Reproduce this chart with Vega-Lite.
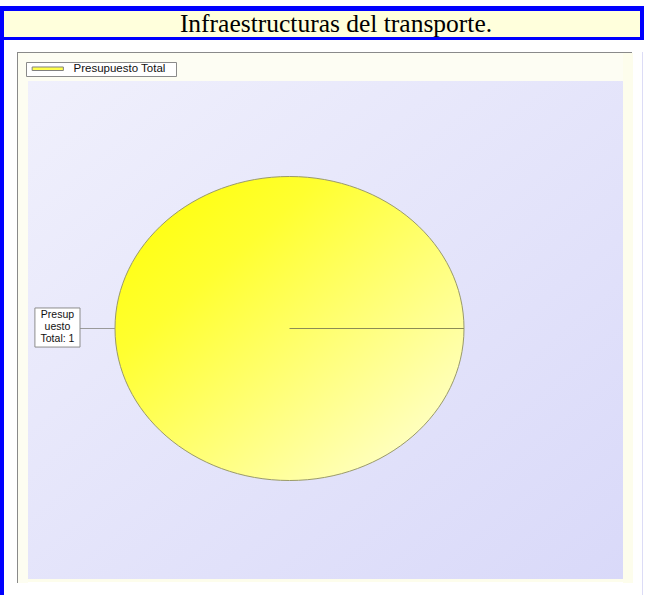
{
  "$schema": "https://vega.github.io/schema/vega-lite/v6.json",
  "background": "white",
  "padding": {"left": 0, "top": 6, "right": 0, "bottom": 0},
  "config": {"view": {"stroke": null}, "concat": {"spacing": 0}},
  "hconcat": [
    {"width": 4, "height": 589, "data": {"values": []}, "mark": "rect", "view": {"fill": "#0000ff"}},
    {
      "spacing": 0,
      "vconcat": [
        {
          "spacing": 0,
          "hconcat": [
            {
              "spacing": 0,
              "bounds": "flush",
              "vconcat": [
                {"width": 636, "height": 5, "data": {"values": []}, "mark": "rect", "view": {"fill": "#0000ff"}},
                {
                  "width": 636, "height": 26,
                  "view": {"fill": "#ffffdc"},
                  "data": {"values": [{"title": "Infraestructuras del transporte."}]},
                  "mark": {"type": "text", "font": "Liberation Serif", "fontSize": 25.5, "color": "black", "align": "center", "baseline": "middle", "dx": 14},
                  "encoding": {"text": {"field": "title"}}
                },
                {"width": 636, "height": 3, "data": {"values": []}, "mark": "rect", "view": {"fill": "#0000ff"}}
              ]
            },
            {"width": 4, "height": 34, "data": {"values": []}, "mark": "rect", "view": {"fill": "#0000ff"}}
          ]
        },
        {
          "spacing": 0,
          "vconcat": [
            {"width": 1, "height": 12, "data": {"values": []}, "mark": "rect"},
            {
              "spacing": 0,
              "hconcat": [
                {"width": 13, "height": 1, "data": {"values": []}, "mark": "rect"},
                {
                  "spacing": 0,
                  "vconcat": [
                    {"width": 615, "height": 1, "data": {"values": []}, "mark": "rect", "view": {"fill": "#8a8a8a"}},
                    {
                      "spacing": 0,
                      "hconcat": [
                        {"width": 1, "height": 530, "data": {"values": []}, "mark": "rect", "view": {"fill": "#8a8a8a"}},
                        {"width": 10, "height": 530, "data": {"values": []}, "mark": "rect", "view": {"fill": "#fdfdf1"}},
                        {
                          "spacing": 0,
                          "bounds": "flush",
                          "vconcat": [
                            {"width": 595, "height": 28, "data": {"values": []}, "mark": "rect", "view": {"fill": "#fdfdf3"}},
                            {
                              "width": 595, "height": 498,
                              "view": {"fill": {"gradient": "linear", "x1": 0, "y1": 0, "x2": 1, "y2": 1, "stops": [{"offset": 0, "color": "#f0f0fc"}, {"offset": 1, "color": "#d9d9f9"}]}},
                              "data": {"values": [{"category": "Presupuesto Total", "value": 1}]},
                              "layer": [
                                {
                                  "mark": {"type": "point", "shape": "M-1,0A1,0.8711 0 1,1 1,0A1,0.8711 0 1,1 -1,0Z", "size": 121801, "filled": true, "opacity": 1, "fillOpacity": 1,
                                    "fill": {"gradient": "linear", "x1": 0, "y1": 0, "x2": 1, "y2": 1, "stops": [{"offset": 0, "color": "#ffff00"}, {"offset": 0.3, "color": "#ffff30"}, {"offset": 1, "color": "#ffffe0"}]},
                                    "stroke": "#9a9a6a", "strokeWidth": 1},
                                  "encoding": {
                                    "x": {"datum": 0, "type": "quantitative", "scale": {"domain": [-1.4986, 1.9112], "nice": false, "zero": false}, "axis": null},
                                    "y": {"datum": 0, "type": "quantitative", "scale": {"domain": [-1.648, 1.6283], "nice": false, "zero": false}, "axis": null}
                                  }
                                },
                                {
                                  "mark": {"type": "rule", "color": "#8c8c55", "strokeWidth": 1},
                                  "encoding": {
                                    "x": {"datum": 0, "type": "quantitative", "scale": {"domain": [-1.4986, 1.9112], "nice": false, "zero": false}, "axis": null},
                                    "x2": {"datum": 1},
                                    "y": {"datum": 0, "type": "quantitative", "scale": {"domain": [-1.648, 1.6283], "nice": false, "zero": false}, "axis": null}
                                  }
                                },
                                {
                                  "mark": {"type": "rule", "color": "#9a9a9a", "strokeWidth": 1},
                                  "encoding": {
                                    "x": {"datum": -1.2006, "type": "quantitative", "scale": {"domain": [-1.4986, 1.9112], "nice": false, "zero": false}, "axis": null},
                                    "x2": {"datum": -1},
                                    "y": {"datum": 0, "type": "quantitative", "scale": {"domain": [-1.648, 1.6283], "nice": false, "zero": false}, "axis": null}
                                  }
                                },
                                {
                                  "mark": {"type": "rect", "fill": "white", "stroke": "#8c8c8c", "strokeWidth": 1},
                                  "encoding": {
                                    "x": {"datum": -1.459, "type": "quantitative", "scale": {"domain": [-1.4986, 1.9112], "nice": false, "zero": false}, "axis": null},
                                    "x2": {"datum": -1.2006},
                                    "y": {"datum": 0.135, "type": "quantitative", "scale": {"domain": [-1.648, 1.6283], "nice": false, "zero": false}, "axis": null},
                                    "y2": {"datum": -0.122}
                                  }
                                },
                                {
                                  "mark": {"type": "text", "text": ["Presup", "uesto", "Total: 1"], "font": "Liberation Sans", "fontSize": 10.5, "lineHeight": 12, "align": "center", "baseline": "middle", "color": "#111111"},
                                  "encoding": {
                                    "x": {"datum": -1.3298, "type": "quantitative", "scale": {"domain": [-1.4986, 1.9112], "nice": false, "zero": false}, "axis": null},
                                    "y": {"datum": 0.089, "type": "quantitative", "scale": {"domain": [-1.648, 1.6283], "nice": false, "zero": false}, "axis": null}
                                  }
                                },
                                {
                                  "mark": {"type": "text", "text": "", "stroke": "#808080", "strokeWidth": 1},
                                  "encoding": {
                                    "color": {"field": "category", "type": "nominal", "scale": {"range": ["#ffff4d"]},
                                      "legend": {"title": null, "orient": "none", "legendX": 26, "legendY": 56, "strokeColor": "#8a8a8a", "fillColor": "white", "padding": 1,
                                        "symbolType": "M-3.9,-0.44H3.9V0.44H-3.9Z", "symbolSize": 64, "symbolOffset": 15, "labelOffset": 20,
                                        "symbolStrokeColor": "#808080", "symbolStrokeWidth": 1, "symbolFillColor": "#ffff4d",
                                        "labelFont": "Liberation Sans", "labelFontSize": 11.5, "labelColor": "#111111", "labelExpr": "datum.label + '\u2800'"}}
                                  }
                                }
                              ]
                            },
                            {"width": 595, "height": 3, "data": {"values": []}, "mark": "rect", "view": {"fill": "#fdfdec"}}
                          ]
                        },
                        {"width": 10, "height": 530, "data": {"values": []}, "mark": "rect", "view": {"fill": "#fdfdec"}}
                      ]
                    }
                  ]
                },
                {"width": 9, "height": 1, "data": {"values": []}, "mark": "rect"},
                {"width": 1, "height": 543, "data": {"values": []}, "mark": "rect", "view": {"fill": "#dcdcf6"}}
              ]
            }
          ]
        }
      ]
    }
  ]
}
